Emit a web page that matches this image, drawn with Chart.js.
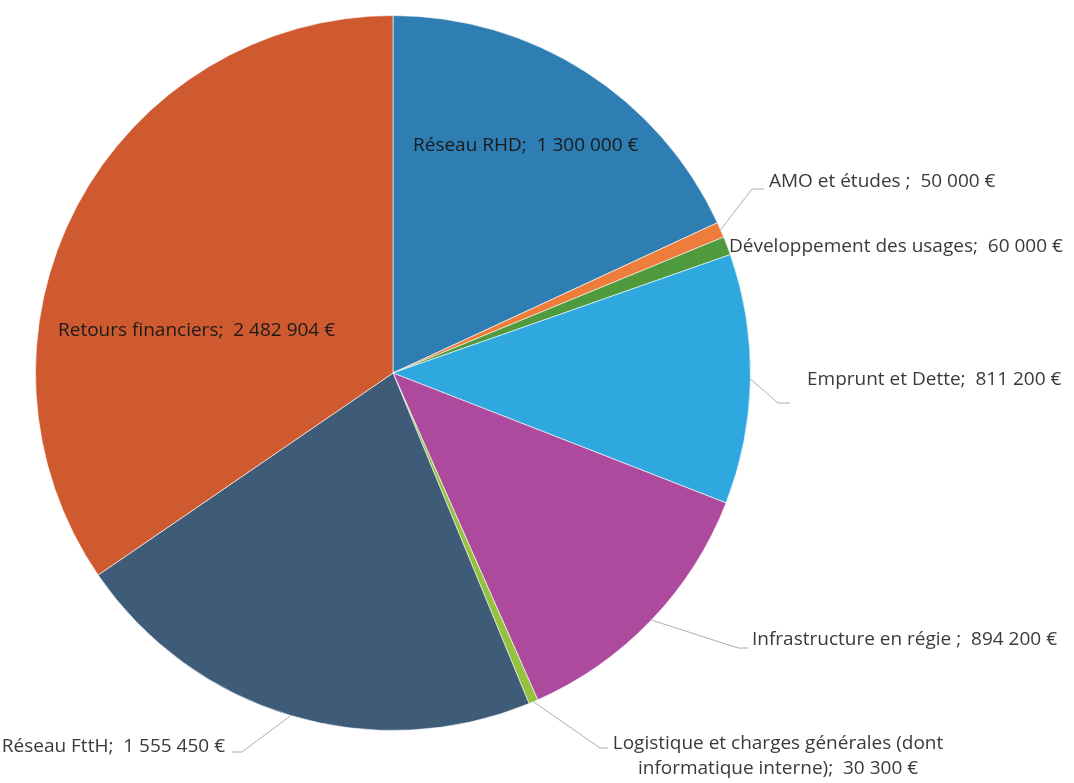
<!DOCTYPE html>
<html>
<head>
<meta charset="utf-8">
<script src="https://cdn.jsdelivr.net/npm/chart.js@4"></script>
<style>
  body { margin: 0; background: #fff; }
  #wrap { width: 1074px; height: 783px; }
</style>
</head>
<body>
<div id="wrap"><canvas id="budgetPie" width="1074" height="783"></canvas></div>
<script>
// Data
const categories = [
  "Réseau RHD",
  "AMO et études ",
  "Développement des usages",
  "Emprunt et Dette",
  "Infrastructure en régie ",
  "Logistique et charges générales (dont informatique interne)",
  "Réseau FttH",
  "Retours financiers"
];
const amounts = [1300000, 50000, 60000, 811200, 894200, 30300, 1555450, 2482904];
const sliceColors = ["#2e7eb3", "#ee7d3c", "#4f9a3c", "#2fa8df", "#ad4a9d", "#94c23f", "#3e5b78", "#cf5a2f"];

// Label placement (layout only)
const labelLayout = [
  { x: 413, y: 146, align: "left", inside: true },
  { x: 769, y: 182, align: "left", elbow: [752, 189], end: [764, 189] },
  { x: 729, y: 247, align: "left" },
  { x: 807, y: 380, align: "left", elbow: [778, 403], end: [790, 403] },
  { x: 752, y: 640, align: "left", elbow: [738, 648], end: [748, 648] },
  { x: 778, y: 744, align: "center", elbow: [600, 748], end: [608, 748],
    lines: ["Logistique et charges générales (dont", "informatique interne)"] },
  { x: 225, y: 747, align: "right", elbow: [242, 752], end: [232, 752] },
  { x: 58, y: 331, align: "left", inside: true }
];

function formatEuro(v) {
  return String(v).replace(/\B(?=(\d{3})+(?!\d))/g, " ") + " €";
}

const sliceLabels = {
  id: "sliceLabels",
  afterDatasetsDraw(chart) {
    const ctx = chart.ctx;
    const arcs = chart.getDatasetMeta(0).data;
    ctx.save();
    ctx.font = "19px 'Open Sans'";
    ctx.textBaseline = "middle";
    arcs.forEach((arc, i) => {
      const lay = labelLayout[i];
      // leader line
      if (lay.elbow) {
        const mid = (arc.startAngle + arc.endAngle) / 2;
        const sx = arc.x + Math.cos(mid) * arc.outerRadius;
        const sy = arc.y + Math.sin(mid) * arc.outerRadius;
        ctx.strokeStyle = "#a8adb5";
        ctx.lineWidth = 1;
        ctx.beginPath();
        ctx.moveTo(sx, sy);
        ctx.lineTo(lay.elbow[0], lay.elbow[1]);
        ctx.lineTo(lay.end[0], lay.end[1]);
        ctx.stroke();
      }
      ctx.fillStyle = lay.inside ? "#1b1b1b" : "#3a3a3a";
      ctx.textAlign = lay.align;
      const value = formatEuro(amounts[i]);
      if (lay.lines) {
        ctx.fillText(lay.lines[0], lay.x, lay.y);
        ctx.fillText(lay.lines[1] + ";  " + value, lay.x, lay.y + 25);
      } else {
        ctx.fillText(categories[i] + ";  " + value, lay.x, lay.y);
      }
    });
    ctx.restore();
  }
};

new Chart(document.getElementById("budgetPie").getContext("2d"), {
  type: "pie",
  data: {
    labels: categories,
    datasets: [{
      data: amounts,
      backgroundColor: sliceColors,
      borderColor: "rgba(255,255,255,0.6)",
      borderWidth: 1
    }]
  },
  options: {
    responsive: false,
    animation: false,
    layout: { padding: { left: 35, top: 15, right: 323, bottom: 52 } },
    plugins: {
      legend: { display: false },
      tooltip: { enabled: false }
    }
  },
  plugins: [sliceLabels]
});
</script>
</body>
</html>
